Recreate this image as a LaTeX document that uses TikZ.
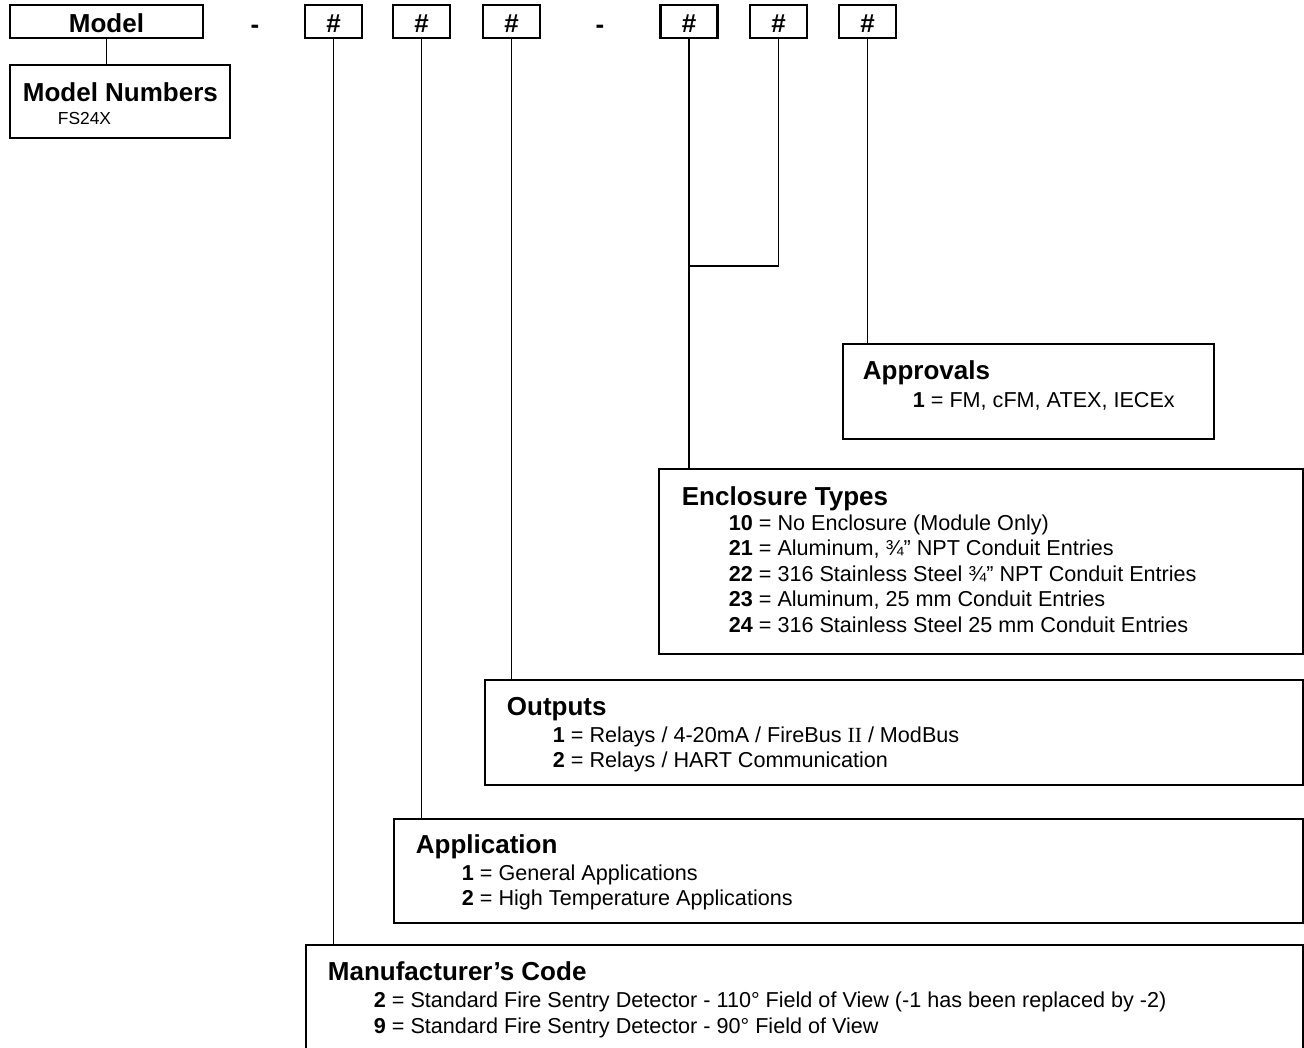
\documentclass[tikz,border=0pt]{standalone}
\usepackage{fontspec}
\setmainfont{Liberation Sans}
\newfontfamily\romanfont{Liberation Serif}
\usetikzlibrary{calc}
\newcommand\hdfont{\fontsize{26}{30}\selectfont\bfseries}
\newcommand\bdfont{\fontsize{21.6}{25}\selectfont}
\newcommand\smfont{\fontsize{17.4}{20}\selectfont}

\begin{document}
\begin{tikzpicture}[x=1pt,y=-1pt,line width=1.8pt,
  code box/.style={rectangle,draw,line width=2.1pt,inner sep=0pt,minimum height=33pt,
    font=\hdfont,text height=23pt,text depth=0pt},
  info box/.style={rectangle,draw,line width=2.1pt,inner sep=0pt,anchor=north west},
  head/.style={inner sep=0pt,anchor=base west,font=\hdfont},
  item/.style={inner sep=0pt,anchor=base west,font=\bdfont}]

  \useasboundingbox (0,0) rectangle (1304,1048);
  \clip (0,0) rectangle (1304,1048);

  % top row of the code
  \node[code box,minimum width=193pt] (M) at (106.5,21.5) {Model};
  \node[font=\hdfont,inner sep=0pt,anchor=base] (D1) at (255,34) {-};
  \node[code box,minimum width=57pt] (H1) at (333.5,21.5) {\#};
  \node[code box,minimum width=57pt] (H2) at (421.5,21.5) {\#};
  \node[code box,minimum width=57pt] (H3) at (511.5,21.5) {\#};
  \node[font=\hdfont,inner sep=0pt,anchor=base] (D2) at (600,34) {-};
  \node[code box,minimum width=57pt] (H4) at (689,21.5) {\#};
  \node[code box,minimum width=57pt] (H5) at (778.5,21.5) {\#};
  \node[code box,minimum width=57pt] (H6) at (867.5,21.5) {\#};

  % boxes
  \node[info box,minimum width=220pt,minimum height=73pt] (MN) at (9,64) {};
  \node[info box,minimum width=371pt,minimum height=95pt] (APV) at (842,343) {};
  \node[info box,minimum width=644pt,minimum height=185pt] (ENC) at (658,468) {};
  \node[info box,minimum width=818pt,minimum height=105pt] (OUT) at (484,679) {};
  \node[info box,minimum width=909pt,minimum height=104pt] (APP) at (393,818) {};
  \node[info box,minimum width=997pt,minimum height=130pt] (MFR) at (305,944) {};

  \node[head] (MNh) at ($(MN.north west)+(13,38)$) {Model Numbers};
  \node[inner sep=0pt,anchor=base west,font=\smfont] (MN1) at ($(MN.north west)+(48,61)$) {FS24X};

  \node[head] (APVh) at ($(APV.north west)+(20,37)$) {Approvals};
  \node[item] (APV1) at ($(APV.north west)+(70,64)$) {\textbf{1} = FM, cFM, ATEX, IECEx};

  \node[head] (ENCh) at ($(ENC.north west)+(23,37)$) {Enclosure Types};
  \node[item] (ENC1) at ($(ENC.north west)+(70,62)$) {\textbf{10} = No Enclosure (Module Only)};
  \node[item] (ENC2) at ($(ENC.north west)+(70,87)$) {\textbf{21} = Aluminum, ¾” NPT Conduit Entries};
  \node[item] (ENC3) at ($(ENC.north west)+(70,113)$) {\textbf{22} = 316 Stainless Steel ¾” NPT Conduit Entries};
  \node[item] (ENC4) at ($(ENC.north west)+(70,138)$) {\textbf{23} = Aluminum, 25 mm Conduit Entries};
  \node[item] (ENC5) at ($(ENC.north west)+(70,164)$) {\textbf{24} = 316 Stainless Steel 25 mm Conduit Entries};

  \node[head] (OUTh) at ($(OUT.north west)+(22,36)$) {Outputs};
  \node[item] (OUT1) at ($(OUT.north west)+(68,63)$) {\textbf{1} = Relays / 4-20mA / FireBus {\romanfont II} / ModBus};
  \node[item] (OUT2) at ($(OUT.north west)+(68,88)$) {\textbf{2} = Relays / HART Communication};

  \node[head] (APPh) at ($(APP.north west)+(22,35)$) {Application};
  \node[item] (APP1) at ($(APP.north west)+(68,62)$) {\textbf{1} = General Applications};
  \node[item] (APP2) at ($(APP.north west)+(68,87)$) {\textbf{2} = High Temperature Applications};

  \node[head] (MFRh) at ($(MFR.north west)+(22,36)$) {Manufacturer’s Code};
  \node[item] (MFR1) at ($(MFR.north west)+(68,63)$) {\textbf{2} = Standard Fire Sentry Detector - 110° Field of View (-1 has been replaced by -2)};
  \node[item] (MFR2) at ($(MFR.north west)+(68,89)$) {\textbf{9} = Standard Fire Sentry Detector - 90° Field of View};

  % connectors
  \coordinate (J) at (H5.south |- 0,266);
  \draw (M.south) -- (M.south |- MN.north);
  \draw (H1.south) -- (H1.south |- MFR.north);
  \draw (H2.south) -- (H2.south |- APP.north);
  \draw (H3.south) -- (H3.south |- OUT.north);
  \draw (H4.south) -- (H4.south |- ENC.north);
  \draw (H5.south) -- (J) -- (J -| H4.south);
  \draw (H6.south) -- (H6.south |- APV.north);
\end{tikzpicture}
\end{document}
